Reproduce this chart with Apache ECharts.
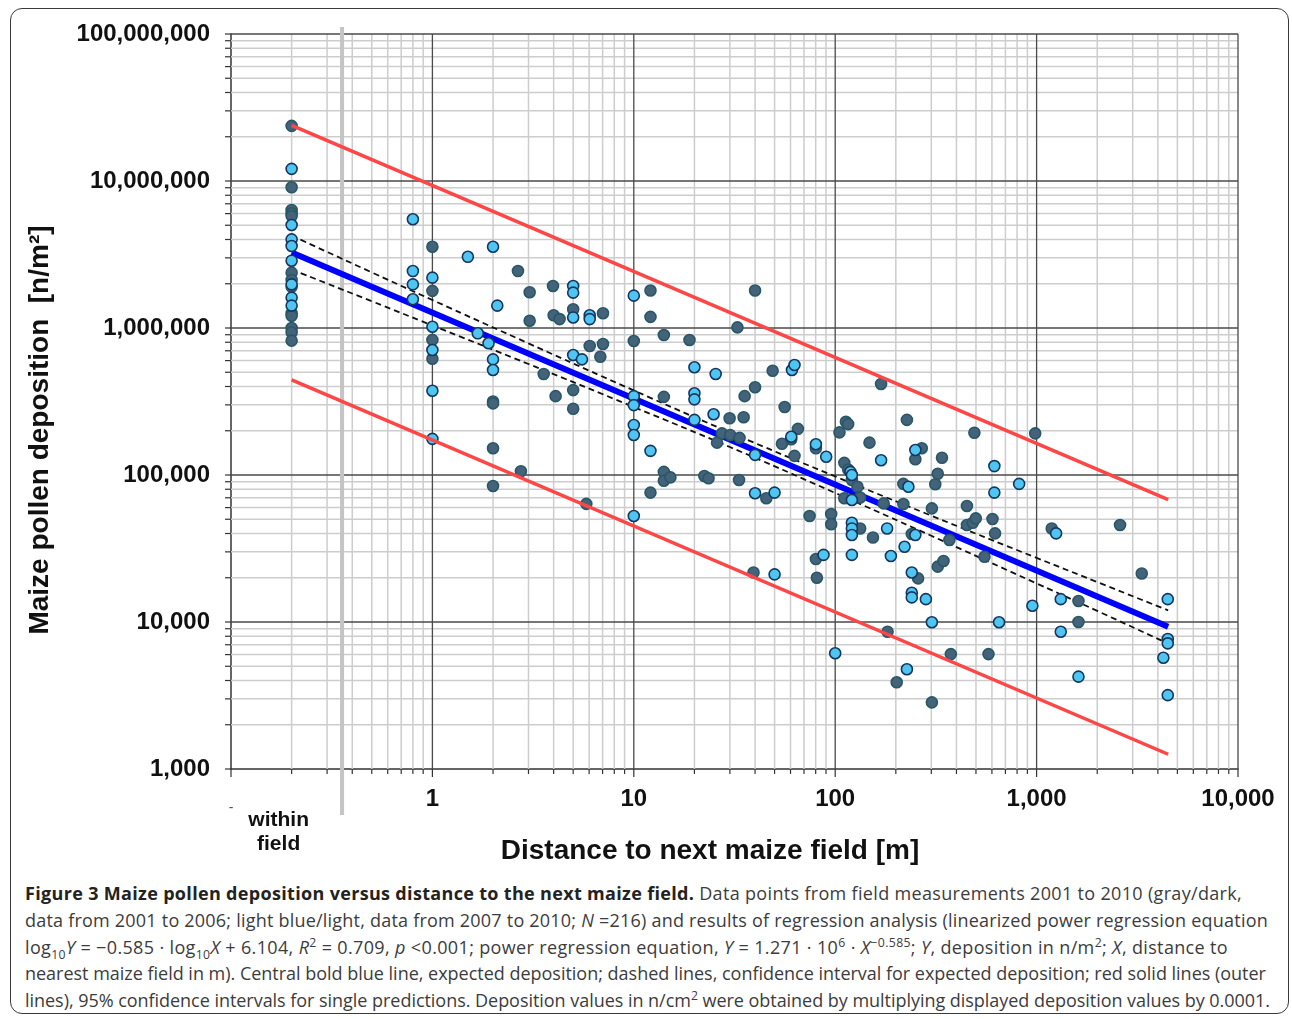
<!DOCTYPE html>
<html>
<head>
<meta charset="utf-8">
<script src="https://cdn.jsdelivr.net/npm/echarts@6/dist/echarts.min.js"></script>
<style>
  html, body { margin: 0; padding: 0; background: #fff; }
  #frame { position: absolute; left: 10px; top: 8px; width: 1277px; height: 1004px; border: 1.5px solid #3a3a3a; border-radius: 12px; }
  #chart { position: absolute; left: 0; top: 0; width: 1292px; height: 880px; }
  #caption { position: absolute; left: 25px; top: 880px; font-family: "Open Sans", sans-serif; font-size: 18px; line-height: 26.8px; color: #3c3c3c; white-space: nowrap; }
  #caption .cl { display: inline-block; }
  #caption b { color: #222; }
  #caption sup, #caption sub { font-size: 68%; line-height: 0; }
</style>
</head>
<body>
<div id="frame"></div>
<div id="chart"></div>
<div id="caption">
  <div><span class="cl" data-w="1217"><b>Figure 3 Maize pollen deposition versus distance to the next maize field.</b> Data points from field measurements 2001 to 2010 (gray/dark,</span></div>
  <div><span class="cl" data-w="1243">data from 2001 to 2006; light blue/light, data from 2007 to 2010; <i>N</i> =216) and results of regression analysis (linearized power regression equation</span></div>
  <div><span class="cl" data-w="1203">log<sub>10</sub><i>Y</i> = −0.585 · log<sub>10</sub><i>X</i> + 6.104, <i>R</i><sup>2</sup> = 0.709, <i>p</i> &lt;0.001; power regression equation, <i>Y</i> = 1.271 · 10<sup>6</sup> · <i>X</i><sup>−0.585</sup>; <i>Y</i>, deposition in n/m<sup>2</sup>; <i>X</i>, distance to</span></div>
  <div><span class="cl" data-w="1241">nearest maize field in m). Central bold blue line, expected deposition; dashed lines, confidence interval for expected deposition; red solid lines (outer</span></div>
  <div><span class="cl" data-w="1245">lines), 95% confidence intervals for single predictions. Deposition values in n/cm<sup>2</sup> were obtained by multiplying displayed deposition values by 0.0001.</span></div>
</div>
<script>
// ---------------- DATA ----------------
const withinFieldX = 0.2;          // "within field" plotted position
const dividerX = 0.356;            // gray separator line
const xDecades = [0.1, 1, 10, 100, 1000, 10000];
const yDecades = [1e3, 1e4, 1e5, 1e6, 1e7, 1e8];
const xLabelWithin = 'within\nfield';

// gray/dark: data 2001-2006  [distance m, deposition n/m2]
const darkPoints = [
  [0.2,2.37e7],[0.2,9.06e6],[0.2,6.35e6],[0.2,6.03e6],[0.2,5.78e6],[0.2,2.38e6],[0.2,2.12e6],[0.2,1.91e6],
  [0.2,1.26e6],[0.2,1.21e6],[0.2,1.0e6],[0.2,9.35e5],[0.2,8.2e5],
  [1,3.57e6],[1,1.79e6],[1,8.3e5],[1,6.18e5],
  [2,3.16e5],[2,3.07e5],[2,1.52e5],[2,8.42e4],
  [2.66,2.44e6],[2.75,1.06e5],[3.04,1.75e6],[3.04,1.12e6],[3.57,4.87e5],
  [3.97,1.93e6],[4.0,1.22e6],[4.28,1.15e6],[4.09,3.44e5],
  [5,1.34e6],[5,3.78e5],[5,2.82e5],[5.81,6.36e4],[6.04,7.55e5],[6.82,6.38e5],[7.03,1.26e6],[7.03,7.79e5],
  [10,8.16e5],[12.1,1.8e6],[12.1,1.19e6],[12.1,7.59e4],
  [14.1,8.96e5],[14.1,3.4e5],[14.1,1.05e5],[14.1,9.14e4],[15.2,9.64e4],[18.9,8.28e5],
  [22.4,9.84e4],[23.5,9.5e4],[25.9,1.66e5],[27.4,1.92e5],[29.9,2.43e5],[30.1,1.87e5],[33.5,1.79e5],
  [32.7,1.01e6],[33.3,9.25e4],[35.1,2.47e5],[35.5,3.44e5],
  [39.3,2.17e4],[40,1.8e6],[40,3.95e5],[45.5,6.95e4],[48.9,5.12e5],[54.4,1.63e5],[56.1,2.9e5],
  [60.5,1.75e5],[62.8,1.35e5],[65.3,2.06e5],[74.6,5.26e4],
  [80.2,1.52e5],[80.2,2.68e4],[81.1,2.0e4],[95.5,5.43e4],[95.5,4.62e4],[105,1.95e5],[113,2.3e5],[116,2.22e5],
  [111,1.21e5],[116,1.09e5],[121,9.25e4],[129,8.31e4],[111,6.95e4],[133,7.03e4],[133,4.33e4],
  [148,1.66e5],[154,3.76e4],[169,4.16e5],[174,6.41e4],[182,8.59e3],[202,3.89e3],[218,8.7e4],[218,6.35e4],
  [227,2.37e5],[240,3.97e4],[269,1.52e5],[250,1.28e5],[258,1.98e4],
  [302,5.93e4],[302,2.84e3],[314,8.65e4],[323,1.02e5],[323,2.38e4],[345,2.6e4],[339,1.31e5],[369,3.61e4],
  [375,6.05e3],[451,6.15e4],[451,4.57e4],[482,4.73e4],[499,5.07e4],[491,1.94e5],[551,2.78e4],[577,6.05e3],
  [604,5.02e4],[622,4.01e4],
  [984,1.92e5],[1189,4.33e4],[1614,1.39e4],[1614,1.0e4],[2596,4.57e4],[3327,2.14e4]
];

// light blue/light: data 2007-2010
const lightPoints = [
  [0.2,1.21e7],[0.2,5.02e6],[0.2,4.01e6],[0.2,3.61e6],[0.2,2.87e6],[0.2,1.98e6],[0.2,1.61e6],[0.2,1.42e6],
  [0.8,5.49e6],[0.8,2.44e6],[0.8,1.98e6],[0.8,1.57e6],
  [1,2.2e6],[1,1.02e6],[1,7.08e5],[1,3.74e5],[1,1.76e5],
  [1.5,3.05e6],[1.68,9.2e5],[1.9,7.87e5],[2,3.57e6],[2,6.12e5],[2,5.18e5],[2.1,1.42e6],
  [5,1.93e6],[5,1.74e6],[5,1.18e6],[5,6.55e5],[5.53,6.12e5],[6.04,1.22e6],[6.04,1.15e6],
  [10,1.66e6],[10,3.44e5],[10,2.99e5],[10,2.19e5],[10,1.87e5],[10,5.26e4],[12.1,1.46e5],
  [20,5.41e5],[20,3.6e5],[20,3.27e5],[20,2.37e5],[24.9,2.59e5],[25.5,4.87e5],
  [40,1.37e5],[40,7.51e4],[50,7.59e4],[50,2.11e4],[60.5,1.82e5],[61,5.18e5],[62.8,5.6e5],
  [80.2,1.62e5],[87.5,2.86e4],[90.2,1.33e5],[100,6.13e3],[119,1.05e5],[121,1.0e5],[121,6.76e4],
  [121,4.73e4],[121,4.33e4],[121,3.91e4],[121,2.86e4],
  [169,1.26e5],[181,4.33e4],[189,2.81e4],[221,3.25e4],[227,4.77e3],[231,8.32e4],[250,3.91e4],
  [240,2.17e4],[240,1.58e4],[240,1.47e4],[250,1.48e5],[282,1.43e4],[302,9.96e3],
  [617,1.15e5],[617,7.59e4],[651,9.96e3],[819,8.7e4],[953,1.29e4],[1250,4.01e4],[1318,1.43e4],[1318,8.59e3],
  [1614,4.25e3],[4480,1.43e4],[4480,7.66e3],[4480,7.16e3],[4260,5.71e3],[4480,3.18e3]
];

// regression lines
const lineX = [0.2, 4500];
const expectedY = [3.26e6, 9.27e3];
const predUpperY = [2.39e7, 6.81e4];
const predLowerY = [4.44e5, 1.26e3];
const confX = [0.2, 0.5, 1, 3, 10, 30, 100, 300, 1000, 2000, 4500];
const confUpperY = [4.25e6, 2.39e6, 1.55e6, 7.86e5, 3.76e5, 1.95e5, 9.78e4, 5.29e4, 2.73e4, 1.87e4, 1.20e4];
const confLowerY = [2.50e6, 1.52e6, 1.04e6, 5.69e5, 2.90e5, 1.55e5, 7.55e4, 3.86e4, 1.83e4, 1.19e4, 7.13e3];

// ---------------- BUILD ----------------
const FONT = '"Liberation Sans", Arial, sans-serif';
const zip = (xs, ys) => xs.map((x, i) => [x, ys[i]]);
const minorsOf = decs => {
  const out = [];
  decs.slice(0, -1).forEach(d => { for (let k = 2; k <= 9; k++) out.push(+(k * d).toPrecision(3)); });
  return out;
};
const xMinor = minorsOf(xDecades);
const yMinor = minorsOf(yDecades);
const X0 = xDecades[0], X1 = xDecades[xDecades.length - 1];
const Y0 = yDecades[0], Y1 = yDecades[yDecades.length - 1];

function vLine(color, width) {
  return function (params, api) {
    const v = api.value(0);
    const a = api.coord([v, Y0]), b = api.coord([v, Y1]);
    return { type: 'line', shape: { x1: a[0], y1: a[1], x2: b[0], y2: b[1] }, style: { stroke: color, lineWidth: width } };
  };
}
function hLine(color, width) {
  return function (params, api) {
    const v = api.value(1);
    const a = api.coord([X0, v]), b = api.coord([X1, v]);
    return { type: 'line', shape: { x1: a[0], y1: a[1], x2: b[0], y2: b[1] }, style: { stroke: color, lineWidth: width } };
  };
}
function yTick(params, api) {
  const p = api.coord([X0, api.value(1)]);
  return { type: 'line', shape: { x1: p[0] - 6, y1: p[1], x2: p[0], y2: p[1] }, style: { stroke: '#333', lineWidth: 1.2 } };
}
function xTick(len) {
  return function (params, api) {
    const p = api.coord([api.value(0), Y0]);
    return { type: 'line', shape: { x1: p[0], y1: p[1], x2: p[0], y2: p[1] + len }, style: { stroke: '#333', lineWidth: 1.2 } };
  };
}

const chart = echarts.init(document.getElementById('chart'));
const fmt = v => Math.round(v).toLocaleString('en-US');

chart.setOption({
  animation: false,
  grid: { left: 231, top: 34, right: 54, bottom: 111, containLabel: false },
  xAxis: {
    type: 'log', logBase: 10, min: X0, max: X1, splitNumber: 5,
    axisLine: { show: true, onZero: false, lineStyle: { color: '#333', width: 1.5 } },
    axisTick: { show: false }, splitLine: { show: false }, minorTick: { show: false },
    axisLabel: {
      margin: 18,
      formatter: v => (v < 0.5 ? '{d|-}' : fmt(v)),
      fontFamily: FONT, fontWeight: 'bold', fontSize: 24, color: '#111',
      rich: { d: { fontSize: 14, fontWeight: 'normal', color: '#555', padding: [14, 0, 0, 0], fontFamily: FONT } }
    }
  },
  yAxis: {
    type: 'log', logBase: 10, min: Y0, max: Y1, splitNumber: 5,
    axisLine: { show: true, onZero: false, lineStyle: { color: '#333', width: 1.5 } },
    axisTick: { show: false }, splitLine: { show: false }, minorTick: { show: false },
    axisLabel: { margin: 21, formatter: v => fmt(v), fontFamily: FONT, fontWeight: 'bold', fontSize: 24, color: '#111' }
  },
  series: [
    { type: 'custom', z: 1, silent: true, renderItem: vLine('#cdcdcd', 1.5), data: xMinor.map(v => [v, Y0]) },
    { type: 'custom', z: 1, silent: true, renderItem: hLine('#cdcdcd', 1.5), data: yMinor.map(v => [X0, v]) },
    { type: 'custom', z: 2, silent: true, renderItem: vLine('#4a4a4a', 1.3), data: xDecades.slice(1).map(v => [v, Y0]) },
    { type: 'custom', z: 2, silent: true, renderItem: hLine('#4a4a4a', 1.3), data: yDecades.slice(1).map(v => [X0, v]) },
    {
      type: 'custom', z: 2, silent: true, clip: false,
      renderItem: (params, api) => {
        const v = api.value(0);
        const a = api.coord([v, Y1]), b = api.coord([v, Y0]);
        return { type: 'line', shape: { x1: a[0], y1: a[1] - 7, x2: b[0], y2: b[1] + 46 }, style: { stroke: '#c4c4c4', lineWidth: 4 } };
      },
      data: [[dividerX, Y0]]
    },
    { type: 'custom', z: 3, silent: true, clip: false, renderItem: yTick, data: yDecades.concat(yMinor).map(v => [X0, v]) },
    { type: 'custom', z: 3, silent: true, clip: false, renderItem: xTick(5), data: xMinor.map(v => [v, Y0]) },
    { type: 'custom', z: 3, silent: true, clip: false, renderItem: xTick(8), data: xDecades.map(v => [v, Y0]) },
    { name: 'expected', type: 'line', z: 4, symbol: 'none', data: zip(lineX, expectedY), lineStyle: { color: '#0000ff', width: 6 } },
    { name: 'conf upper', type: 'line', z: 4, symbol: 'none', smooth: true, data: zip(confX, confUpperY), lineStyle: { color: '#111', width: 1.8, type: [6, 4] } },
    { name: 'conf lower', type: 'line', z: 4, symbol: 'none', smooth: true, data: zip(confX, confLowerY), lineStyle: { color: '#111', width: 1.8, type: [6, 4] } },
    { name: '2001-2006', type: 'scatter', z: 5, symbolSize: 11, data: darkPoints,
      itemStyle: { color: '#44637a', borderColor: '#285866', borderWidth: 1.6, opacity: 1 } },
    { name: '2007-2010', type: 'scatter', z: 5, symbolSize: 11, data: lightPoints,
      itemStyle: { color: '#4fc6f2', borderColor: '#15375f', borderWidth: 1.6, opacity: 1 } },
    { name: 'pred upper', type: 'line', z: 6, symbol: 'none', data: zip(lineX, predUpperY), lineStyle: { color: '#ff4646', width: 3.5 } },
    { name: 'pred lower', type: 'line', z: 6, symbol: 'none', data: zip(lineX, predLowerY), lineStyle: { color: '#ff4646', width: 3.5 } }
  ]
});

const wx = chart.convertToPixel({ xAxisIndex: 0 }, withinFieldX);
const yBottom = chart.convertToPixel({ yAxisIndex: 0 }, Y0);
chart.setOption({
  graphic: [
    { type: 'text', x: wx - 13, y: yBottom + 39, style: { text: xLabelWithin, font: 'bold 21px ' + FONT, fill: '#111', textAlign: 'center', textVerticalAlign: 'top', lineHeight: 24 } },
    { type: 'text', x: 710, y: 851, style: { text: 'Distance to next maize field [m]', font: 'bold 28px ' + FONT, fill: '#111', textAlign: 'center', textVerticalAlign: 'middle' } },
    { type: 'text', x: 40, y: 430, rotation: Math.PI / 2, style: { text: 'Maize pollen deposition  [n/m²]', font: 'bold 28px ' + FONT, fill: '#111', textAlign: 'center', textVerticalAlign: 'middle' } }
  ]
});

function fitCaption() {
  document.querySelectorAll('#caption .cl').forEach(el => {
    el.style.letterSpacing = '0px';
    const target = +el.dataset.w;
    const w = el.getBoundingClientRect().width;
    const n = el.textContent.length;
    el.style.letterSpacing = ((target - w) / n).toFixed(3) + 'px';
  });
}
fitCaption();
if (document.fonts && document.fonts.ready) document.fonts.ready.then(fitCaption);
</script>
</body>
</html>
